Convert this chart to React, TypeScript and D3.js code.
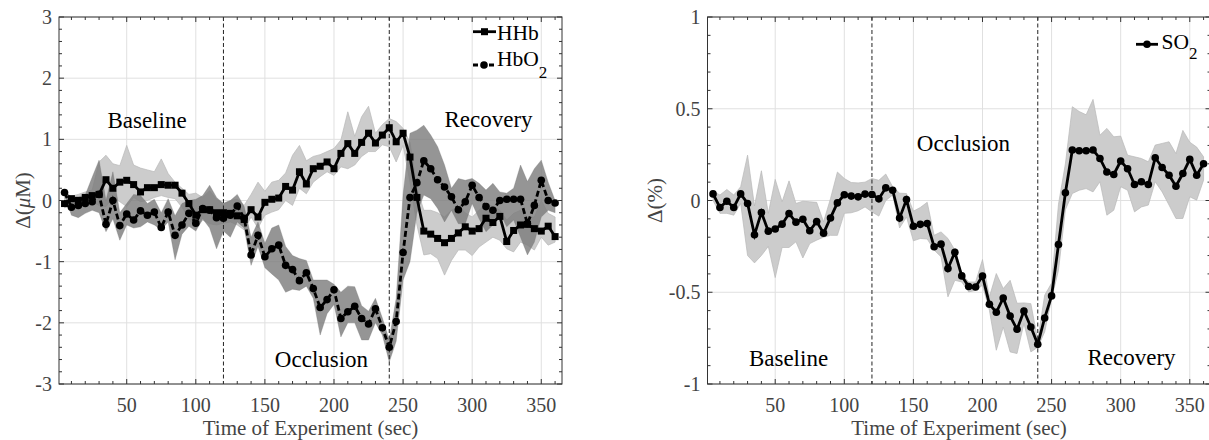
import React from 'react';
import * as d3 from 'd3';

// ---------- DATA ----------
const times = [5,10,15,20,25,30,35,40,45,50,55,60,65,70,75,80,85,90,95,100,105,110,115,120,125,130,135,140,145,150,155,160,165,170,175,180,185,190,195,200,205,210,215,220,225,230,235,240,245,250,255,260,265,270,275,280,285,290,295,300,305,310,315,320,325,330,335,340,345,350,355,360];

const hhb = [-0.05,0.03,0.0,0.05,0.08,0.1,0.34,0.2,0.3,0.33,0.26,0.14,0.21,0.21,0.26,0.25,0.25,0.12,-0.05,-0.24,-0.15,-0.15,-0.2,-0.2,-0.21,-0.25,-0.31,-0.15,-0.27,-0.03,0.02,0.04,0.23,0.17,0.47,0.27,0.52,0.56,0.63,0.52,0.77,0.93,0.77,0.95,1.1,0.94,1.07,1.19,0.96,1.1,0.71,0.05,-0.5,-0.55,-0.62,-0.69,-0.62,-0.53,-0.43,-0.5,-0.46,-0.29,-0.36,-0.26,-0.67,-0.49,-0.4,-0.39,-0.46,-0.5,-0.42,-0.59];
const hhbUpper = [0.06,0.07,0.1,0.14,0.17,0.63,0.74,0.6,0.57,0.9,0.58,0.53,0.5,0.47,0.68,0.44,0.3,0.2,0.1,0.12,0.05,0.16,0.02,-0.05,0.0,0.02,-0.08,0.1,0.3,0.15,0.3,0.33,0.45,0.74,0.9,0.65,0.72,0.75,0.8,0.85,0.99,1.45,1.05,1.37,1.54,1.1,1.24,1.34,1.29,1.18,0.95,0.2,-0.16,-0.16,-0.2,-0.27,-0.16,-0.1,-0.2,-0.27,-0.16,-0.05,-0.1,-0.16,-0.32,-0.21,-0.16,-0.27,-0.27,0.0,-0.21,-0.27];
const hhbLower = [-0.12,-0.08,-0.1,-0.05,-0.02,-0.08,-0.1,0.05,-0.02,-0.1,0.05,-0.02,0.0,0.05,0.08,0.05,0.03,-0.11,-0.3,-0.46,-0.32,-0.38,-0.4,-0.37,-0.35,-0.4,-0.48,-0.27,-0.45,-0.24,-0.19,-0.15,0.0,-0.08,0.2,0.11,0.3,0.39,0.47,0.41,0.55,0.52,0.58,0.72,0.8,0.8,0.91,0.88,0.63,0.9,0.3,-0.4,-0.89,-0.87,-0.95,-1.22,-0.98,-0.81,-0.81,-0.9,-0.76,-0.68,-0.6,-0.65,-0.79,-0.84,-0.68,-0.73,-0.81,-0.6,-0.73,-0.68];

const hbo2 = [0.13,-0.11,-0.08,-0.05,-0.02,0.1,-0.39,0.0,-0.41,-0.22,-0.32,-0.17,-0.24,-0.19,-0.44,-0.19,-0.57,-0.4,-0.21,-0.37,-0.13,-0.16,-0.28,-0.29,-0.24,-0.09,-0.29,-0.89,-0.57,-0.92,-0.79,-0.73,-1.06,-1.13,-1.31,-1.18,-1.44,-1.75,-1.62,-1.46,-1.93,-1.82,-1.73,-1.93,-2.02,-1.77,-2.08,-2.4,-1.98,-0.85,0.05,0.29,0.65,0.52,0.34,0.22,0.06,-0.15,-0.02,0.25,0.05,-0.1,-0.16,0.0,0.02,0.02,0.02,-0.38,-0.08,0.33,0.0,-0.04];
const hbo2Upper = [0.15,0.06,0.06,0.09,0.38,0.66,0.0,0.47,-0.2,-0.05,0.1,0.08,-0.05,0.02,-0.2,0.03,-0.25,-0.05,0.0,0.02,0.08,0.25,0.05,-0.05,0.0,0.1,-0.1,-0.6,-0.35,-0.7,-0.45,-0.4,-0.75,-0.9,-0.95,-0.98,-1.3,-1.3,-1.3,-1.37,-1.5,-1.4,-1.41,-1.72,-1.81,-1.6,-1.92,-2.28,-1.6,0.1,1.1,1.15,1.23,1.07,0.88,0.58,0.2,0.36,0.33,0.36,0.28,0.17,0.28,0.14,0.12,0.2,0.58,0.31,0.52,0.66,0.3,0.0];
const hbo2Lower = [0.1,-0.24,-0.28,-0.21,-0.16,-0.2,-0.51,-0.3,-0.65,-0.4,-0.45,-0.43,-0.35,-0.4,-0.48,-0.35,-0.97,-0.55,-0.42,-0.5,-0.3,-0.45,-0.79,-0.5,-0.6,-0.35,-0.45,-1.06,-0.75,-1.1,-1.2,-1.3,-1.5,-1.45,-1.47,-1.4,-1.6,-2.2,-1.85,-1.7,-2.23,-2.0,-2.0,-2.28,-2.28,-2.0,-2.2,-2.64,-2.3,-1.3,-1.0,-0.2,0.09,0.03,-0.13,-0.35,-0.16,-0.38,-0.38,-0.05,-0.3,-0.51,-0.4,-0.2,-0.43,-0.32,-0.6,-0.89,-0.68,-0.27,-0.16,-0.2];

const so2 = [0.036,-0.038,-0.004,-0.038,0.036,-0.016,-0.187,-0.065,-0.167,-0.155,-0.129,-0.071,-0.118,-0.102,-0.165,-0.115,-0.178,-0.095,-0.013,0.031,0.024,0.02,0.035,0.033,0.009,0.069,0.056,-0.096,0.005,-0.14,-0.13,-0.125,-0.252,-0.238,-0.371,-0.282,-0.411,-0.469,-0.471,-0.412,-0.565,-0.609,-0.532,-0.63,-0.702,-0.602,-0.689,-0.784,-0.64,-0.52,-0.24,0.042,0.275,0.271,0.271,0.275,0.229,0.155,0.142,0.215,0.173,0.087,0.102,0.087,0.233,0.18,0.138,0.078,0.147,0.224,0.138,0.2];
const so2Upper = [0.05,0.03,0.06,0.03,0.075,0.247,-0.03,0.162,-0.07,0.115,-0.007,0.107,-0.016,-0.004,-0.007,-0.01,-0.116,0.01,0.155,0.12,0.098,0.096,0.1,0.12,0.11,0.144,0.075,0.04,0.038,-0.058,-0.038,-0.01,-0.19,-0.171,-0.207,-0.27,-0.4,-0.444,-0.444,-0.322,-0.525,-0.398,-0.48,-0.435,-0.56,-0.558,-0.562,-0.76,-0.516,-0.45,-0.02,0.2,0.511,0.485,0.467,0.551,0.356,0.393,0.347,0.351,0.247,0.238,0.229,0.211,0.302,0.311,0.32,0.256,0.382,0.318,0.291,0.238];
const so2Lower = [0.0,-0.07,-0.07,-0.08,-0.016,-0.3,-0.34,-0.3,-0.25,-0.42,-0.256,-0.256,-0.225,-0.313,-0.235,-0.216,-0.2,-0.19,-0.19,-0.07,-0.067,-0.056,-0.035,-0.062,-0.085,0.0,0.03,-0.15,-0.09,-0.22,-0.207,-0.21,-0.27,-0.307,-0.525,-0.435,-0.444,-0.498,-0.49,-0.462,-0.598,-0.816,-0.69,-0.825,-0.834,-0.67,-0.825,-0.8,-0.716,-0.535,-0.38,-0.05,0.038,0.056,0.065,0.047,0.102,-0.08,-0.053,0.075,0.056,-0.062,-0.035,-0.025,0.102,0.047,-0.025,-0.098,-0.098,0.02,0.002,0.111];

const xMajorTicks = [50,100,150,200,250,300,350];
const xMinorTicks = [10,20,30,40,60,70,80,90,110,120,130,140,160,170,180,190,210,220,230,240,260,270,280,290,310,320,330,340,360];
const leftYTicks = [-3,-2,-1,0,1,2,3];
const leftYTickLabels = ['-3','-2','-1','0','1','2','3'];
const leftYMinor = [-2.8,-2.6,-2.4,-2.2,-1.8,-1.6,-1.4,-1.2,-0.8,-0.6,-0.4,-0.2,0.2,0.4,0.6,0.8,1.2,1.4,1.6,1.8,2.2,2.4,2.6,2.8];
const rightYTicks = [-1,-0.5,0,0.5,1];
const rightYTickLabels = ['-1','-0.5','0','0.5','1'];
const rightYMinor = [-0.9,-0.8,-0.7,-0.6,-0.4,-0.3,-0.2,-0.1,0.1,0.2,0.3,0.4,0.6,0.7,0.8,0.9];
const phaseBoundaries = [120, 240];
const xDomain = [1, 365];

// ---------- STYLE ----------
const FONT = '"Liberation Serif","Times New Roman",Times,serif';
const AXC = '#333333';
const TXC = '#444444';
const GRID = '#e0e0e0';
const LIGHT = '#cccccc';
const DARK = '#7a7a7a';
const LW = 2.8;
const SQ = 7;
const CR = 3.8;

type PanelProps = {
  id: string;
  x0: number; x1: number; y0: number; y1: number;
  yDomain: [number, number];
  yTicks: number[]; yTickLabels: string[]; yMinor: number[];
  yLabel: React.ReactNode; yLabelX: number;
  children: (x: d3.ScaleLinear<number, number>, y: d3.ScaleLinear<number, number>) => React.ReactNode;
};

function Panel(p: PanelProps) {
  const x = d3.scaleLinear().domain(xDomain).range([p.x0, p.x1]);
  const y = d3.scaleLinear().domain(p.yDomain).range([p.y1, p.y0]);
  const L = 5, Lm = 3;
  return (
    <g>
      <defs>
        <clipPath id={p.id}>
          <rect x={p.x0} y={p.y0} width={p.x1 - p.x0} height={p.y1 - p.y0} />
        </clipPath>
      </defs>
      {xMajorTicks.map(t => (
        <line key={'gx' + t} x1={x(t)} x2={x(t)} y1={p.y0} y2={p.y1} stroke={GRID} strokeWidth={1} />
      ))}
      {p.yTicks.map(t => (
        <line key={'gy' + t} x1={p.x0} x2={p.x1} y1={y(t)} y2={y(t)} stroke={GRID} strokeWidth={1} />
      ))}
      <g clipPath={`url(#${p.id})`}>
        {p.children(x, y)}
      </g>
      <rect x={p.x0} y={p.y0} width={p.x1 - p.x0} height={p.y1 - p.y0} fill="none" stroke={AXC} strokeWidth={1} />
      {xMajorTicks.map(t => (
        <g key={'tx' + t}>
          <line x1={x(t)} x2={x(t)} y1={p.y1} y2={p.y1 - L} stroke={AXC} />
          <line x1={x(t)} x2={x(t)} y1={p.y0} y2={p.y0 + L} stroke={AXC} />
          <text x={x(t)} y={412} textAnchor="middle" fontSize={20} fill={TXC} fontFamily={FONT}>{t}</text>
        </g>
      ))}
      {xMinorTicks.map(t => (
        <g key={'mx' + t}>
          <line x1={x(t)} x2={x(t)} y1={p.y1} y2={p.y1 - Lm} stroke={AXC} />
          <line x1={x(t)} x2={x(t)} y1={p.y0} y2={p.y0 + Lm} stroke={AXC} />
        </g>
      ))}
      {p.yTicks.map((t, i) => (
        <g key={'ty' + t}>
          <line x1={p.x0} x2={p.x0 + L} y1={y(t)} y2={y(t)} stroke={AXC} />
          <line x1={p.x1} x2={p.x1 - L} y1={y(t)} y2={y(t)} stroke={AXC} />
          <text x={p.x0 - 7} y={y(t)} dy="0.35em" textAnchor="end" fontSize={20} fill={TXC} fontFamily={FONT}>{p.yTickLabels[i]}</text>
        </g>
      ))}
      {p.yMinor.map(t => (
        <g key={'my' + t}>
          <line x1={p.x0} x2={p.x0 + Lm} y1={y(t)} y2={y(t)} stroke={AXC} />
          <line x1={p.x1} x2={p.x1 - Lm} y1={y(t)} y2={y(t)} stroke={AXC} />
        </g>
      ))}
      <text x={(p.x0 + p.x1) / 2} y={435} textAnchor="middle" fontSize={21} fill={TXC} fontFamily={FONT}>Time of Experiment (sec)</text>
      <text transform={`translate(${p.yLabelX},${(p.y0 + p.y1) / 2}) rotate(-90)`} textAnchor="middle" dy="0.35em" fontSize={21} fill={TXC} fontFamily={FONT}>{p.yLabel}</text>
    </g>
  );
}

function band(x: any, y: any, up: number[], lo: number[]) {
  const idx = times.map((_, i) => i);
  return d3.area<number>()
    .x(i => x(times[i]))
    .y0(i => y(lo[i]))
    .y1(i => y(up[i]))(idx) || '';
}
function linePath(x: any, y: any, vals: number[]) {
  const idx = times.map((_, i) => i);
  return d3.line<number>().x(i => x(times[i])).y(i => y(vals[i]))(idx) || '';
}

export default function App() {
  const top = 17, bottom = 384;
  return (
    <svg width={1209} height={440} style={{ position: 'absolute', left: 0, top: 0, background: '#fff' }} fontFamily={FONT}>
      <rect x={0} y={0} width={1209} height={440} fill="#fff" />
      <Panel id="clipL" x0={59} x1={562} y0={top} y1={bottom} yDomain={[-3, 3]}
        yTicks={leftYTicks} yTickLabels={leftYTickLabels} yMinor={leftYMinor}
        yLabel={<>Δ(<tspan fontStyle="italic">μ</tspan>M)</>} yLabelX={23}>
        {(x, y) => (
          <g>
            <path d={band(x, y, hhbUpper, hhbLower)} fill={LIGHT} stroke="#b8b8b8" strokeWidth={0.7} />
            <path d={band(x, y, hbo2Upper, hbo2Lower)} fill={DARK} fillOpacity={0.8} stroke="#6e6e6e" strokeWidth={0.5} strokeOpacity={0.6} />
            {phaseBoundaries.map(b => (
              <line key={b} x1={x(b)} x2={x(b)} y1={top} y2={bottom} stroke="#222" strokeWidth={1} strokeDasharray="4,2.5" />
            ))}
            <path d={linePath(x, y, hhb)} fill="none" stroke="#000" strokeWidth={LW} />
            {times.map((t, i) => (
              <rect key={'s' + t} x={x(t) - SQ / 2} y={y(hhb[i]) - SQ / 2} width={SQ} height={SQ} fill="#000" />
            ))}
            <path d={linePath(x, y, hbo2)} fill="none" stroke="#000" strokeWidth={LW} strokeDasharray="6,3" />
            {times.map((t, i) => (
              <circle key={'c' + t} cx={x(t)} cy={y(hbo2[i])} r={CR} fill="#000" />
            ))}
          </g>
        )}
      </Panel>
      <text x={147} y={128} textAnchor="middle" fontSize={23} fill="#000">Baseline</text>
      <text x={321.5} y={366.5} textAnchor="middle" fontSize={23} fill="#000">Occlusion</text>
      <text x={488.5} y={127} textAnchor="middle" fontSize={23} fill="#000">Recovery</text>
      <line x1={473} x2={496} y1={31.7} y2={31.7} stroke="#000" strokeWidth={LW} />
      <rect x={484.5 - SQ / 2} y={31.7 - SQ / 2} width={SQ} height={SQ} fill="#000" />
      <text x={497} y={39.5} fontSize={21.5} fill="#000">HHb</text>
      <line x1={473} x2={496} y1={65} y2={65} stroke="#000" strokeWidth={LW} strokeDasharray="5,3" />
      <circle cx={484} cy={65} r={CR} fill="#000" />
      <text x={497} y={66} fontSize={21.5} fill="#000">HbO<tspan fontSize={17} dy={12}>2</tspan></text>

      <Panel id="clipR" x0={707.5} x1={1210.5} y0={top} y1={bottom} yDomain={[-1, 1]}
        yTicks={rightYTicks} yTickLabels={rightYTickLabels} yMinor={rightYMinor}
        yLabel={<>Δ(%)</>} yLabelX={655}>
        {(x, y) => (
          <g>
            <path d={band(x, y, so2Upper, so2Lower)} fill={LIGHT} stroke="#b8b8b8" strokeWidth={0.7} />
            {phaseBoundaries.map(b => (
              <line key={b} x1={x(b)} x2={x(b)} y1={top} y2={bottom} stroke="#222" strokeWidth={1} strokeDasharray="4,2.5" />
            ))}
            <path d={linePath(x, y, so2)} fill="none" stroke="#000" strokeWidth={LW} />
            {times.map((t, i) => (
              <circle key={'o' + t} cx={x(t)} cy={y(so2[i])} r={CR} fill="#000" />
            ))}
          </g>
        )}
      </Panel>
      <text x={788.5} y={365.5} textAnchor="middle" fontSize={23} fill="#000">Baseline</text>
      <text x={963.5} y={150.5} textAnchor="middle" fontSize={23} fill="#000">Occlusion</text>
      <text x={1131.5} y={365} textAnchor="middle" fontSize={23} fill="#000">Recovery</text>
      <line x1={1136} x2={1158} y1={44.3} y2={44.3} stroke="#000" strokeWidth={LW} />
      <circle cx={1147} cy={44.3} r={CR} fill="#000" />
      <text x={1161.5} y={49.3} fontSize={21.5} fill="#000">SO<tspan fontSize={17} dy={10}>2</tspan></text>
    </svg>
  );
}
